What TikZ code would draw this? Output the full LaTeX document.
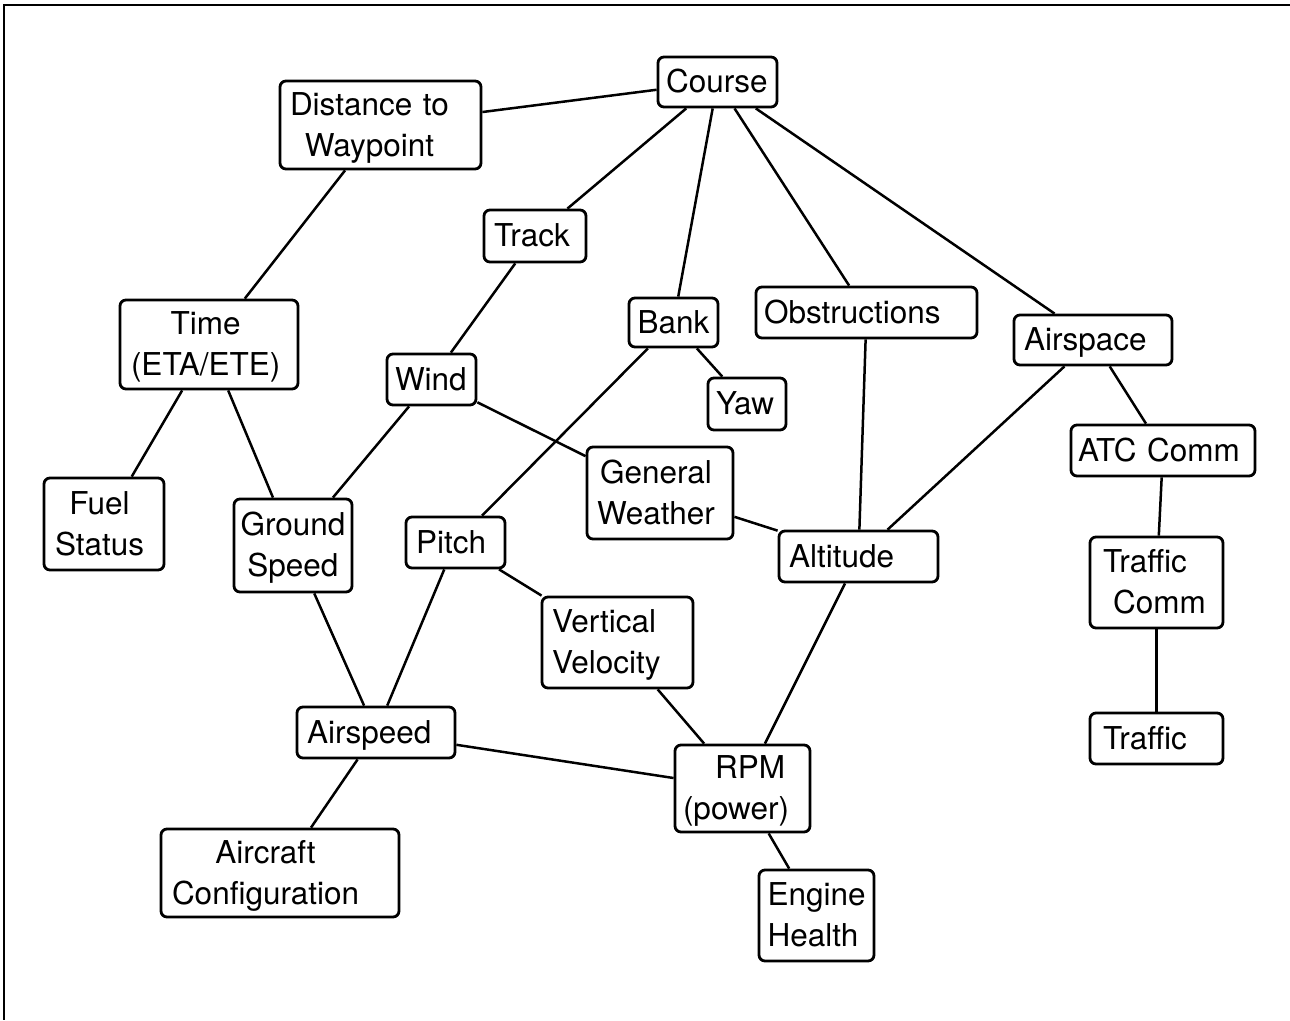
\documentclass[tikz,border=0pt]{standalone}
\usepackage{fontspec}
\setmainfont{TeX Gyre Heros}
\newcommand\mycl[1]{\begin{tabular}[t]{@{}c@{}}#1\end{tabular}}
\newcommand\myll[1]{\begin{tabular}[t]{@{}l@{}}#1\end{tabular}}
\begin{document}
\begin{tikzpicture}[x=1pt,y=-1pt,
  box/.style={draw, line width=2.8pt, rounded corners=6pt, inner ysep=0pt,
    align=left, text height=24pt, text depth=2.5pt,
    font=\fontsize{31.5}{41}\selectfont},
  two/.style={text depth=43.5pt},
  link/.style={line width=2.5pt},
  frame/.style={line width=2pt}]
\useasboundingbox (0,0) rectangle (1290,1020);
\draw[frame] (1290,5) -- (4,5) -- (4,1020);

\node[box, minimum width=119pt, minimum height=50pt, inner xsep=8pt, text width=103pt] (course) at (717.5,82) {Course};
\node[box, two, minimum width=201pt, minimum height=88pt, inner xsep=10pt, text width=181pt] (dtw) at (380.5,125) {\mycl{Distance to\\Waypoint}};
\node[box, minimum width=102pt, minimum height=52pt, inner xsep=10pt, text width=82pt] (track) at (535,236) {Track};
\node[box, two, minimum width=178pt, minimum height=89pt, inner xsep=11pt, text width=156pt] (time) at (209,344.5) {\mycl{Time\\(ETA/ETE)}};
\node[box, minimum width=89pt, minimum height=49pt, inner xsep=8.5pt, text width=72pt] (bank) at (673.5,322.5) {Bank};
\node[box, minimum width=221pt, minimum height=51pt, inner xsep=8pt, text width=205pt] (obst) at (866.5,312.5) {Obstructions};
\node[box, minimum width=158pt, minimum height=50pt, inner xsep=10pt, text width=138pt] (airspace) at (1093,340) {Airspace};
\node[box, minimum width=89pt, minimum height=51pt, inner xsep=8pt, text width=73pt] (wind) at (431.5,379.5) {Wind};
\node[box, minimum width=78pt, minimum height=52pt, inner xsep=8pt, text width=62pt] (yaw) at (747,404) {Yaw};
\node[box, minimum width=184pt, minimum height=51pt, inner xsep=7pt, text width=170pt] (atc) at (1163,450.5) {ATC Comm};
\node[box, two, minimum width=146pt, minimum height=92pt, inner xsep=10pt, text width=126pt] (gw) at (660,493) {\mycl{General\\Weather}};
\node[box, two, minimum width=120pt, minimum height=92pt, inner xsep=11pt, text width=98pt] (fuel) at (104,524) {\mycl{Fuel\\Status}};
\node[box, two, minimum width=118pt, minimum height=93pt, inner xsep=6.5pt, text width=105pt] (ground) at (293,545.5) {\mycl{Ground\\Speed}};
\node[box, minimum width=99pt, minimum height=51pt, inner xsep=10pt, text width=79pt] (pitch) at (455.5,542.5) {Pitch};
\node[box, minimum width=159pt, minimum height=51pt, inner xsep=10pt, text width=139pt] (alt) at (858.5,556.5) {Altitude};
\node[box, two, minimum width=133pt, minimum height=91pt, inner xsep=13pt, text width=107pt] (tcomm) at (1156.5,582.5) {\myll{Traffic\\\hspace*{10pt}Comm}};
\node[box, two, minimum width=151pt, minimum height=91pt, inner xsep=10pt, text width=131pt] (vv) at (617.5,642.5) {\myll{Vertical\\Velocity}};
\node[box, minimum width=158pt, minimum height=51pt, inner xsep=10pt, text width=138pt] (airspeed) at (376,732.5) {Airspeed};
\node[box, minimum width=133pt, minimum height=51pt, inner xsep=13pt, text width=107pt] (traffic) at (1156.5,738.5) {Traffic};
\node[box, two, minimum width=135pt, minimum height=87pt, inner xsep=8pt, text width=119pt] (rpm) at (742.5,788.5) {\myll{\hspace*{32pt}RPM\\(power)}};
\node[box, two, minimum width=238pt, minimum height=88pt, inner xsep=11pt, text width=216pt] (acconf) at (280,873) {\mycl{Aircraft\\Configuration}};
\node[box, two, minimum width=115pt, minimum height=91pt, inner xsep=8.5pt, text width=98pt] (engine) at (816.5,915.5) {\myll{Engine\\Health}};

\draw[link] (course) -- (dtw);
\draw[link] (course) -- (track);
\draw[link] (course) -- (bank);
\draw[link] (course) -- (obst);
\draw[link] (course) -- (airspace);
\draw[link] (dtw) -- (time);
\draw[link] (track) -- (wind);
\draw[link] (time) -- (fuel);
\draw[link] (time) -- (ground);
\draw[link] (wind) -- (ground);
\draw[link] (wind) -- (gw);
\draw[link] (bank) -- (yaw);
\draw[link] (bank) -- (pitch);
\draw[link] (gw) -- (alt);
\draw[link] (obst) -- (alt);
\draw[link] (airspace) -- (alt);
\draw[link] (airspace) -- (atc);
\draw[link] (atc) -- (tcomm);
\draw[link] (tcomm) -- (traffic);
\draw[link] (ground) -- (airspeed);
\draw[link] (pitch) -- (airspeed);
\draw[link] (pitch) -- (vv);
\draw[link] (vv) -- (rpm);
\draw[link] (alt) -- (rpm);
\draw[link] (airspeed) -- (rpm);
\draw[link] (airspeed) -- (acconf);
\draw[link] (rpm) -- (engine);
\end{tikzpicture}
\end{document}
